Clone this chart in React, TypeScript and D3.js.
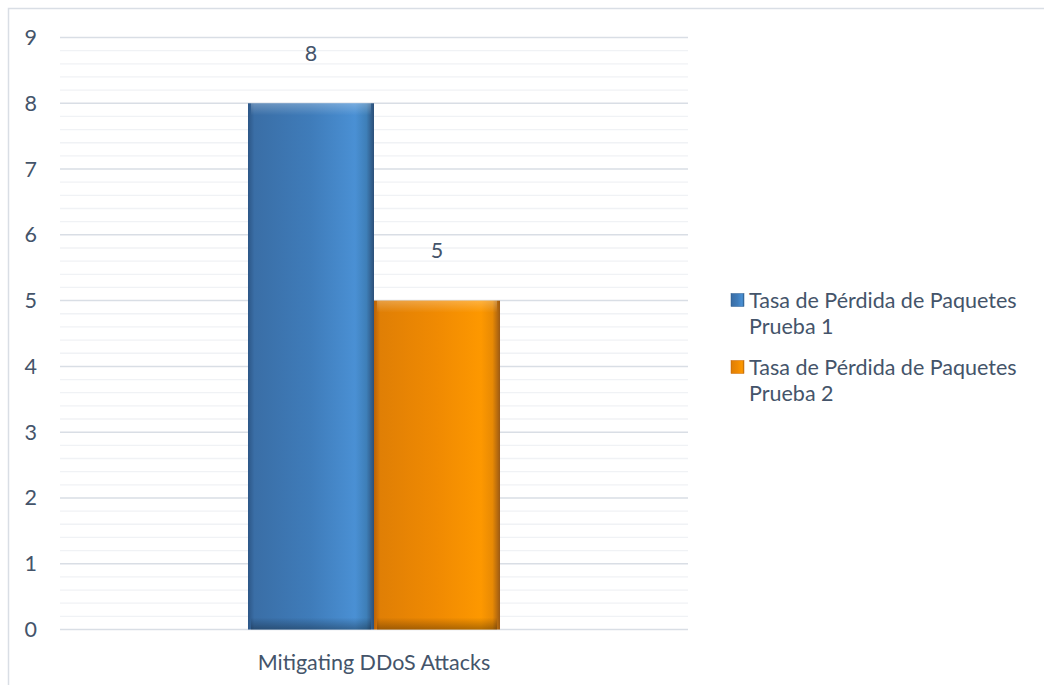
import React from "react";
import * as d3 from "d3";

const categories = ["Mitigating DDoS Attacks"];
const seriesNames = [
  ["Tasa de Pérdida de Paquetes", "Prueba 1"],
  ["Tasa de Pérdida de Paquetes", "Prueba 2"],
];
const seriesValues = [8, 5];
const yTicks = [0, 1, 2, 3, 4, 5, 6, 7, 8, 9];

const W = 1044;
const H = 685;
const FONT = "Lato, 'Noto Sans', sans-serif";
const TEXT = "#44546a";
const FS = 21.5;

export default function App() {
  const plotL = 60, plotR = 688, plotT = 37.5, plotB = 629.5;
  const y = d3.scaleLinear().domain([0, 9]).range([plotB, plotT]);
  const x0 = d3.scaleBand().domain(categories).range([plotL, plotR]).paddingInner(0).paddingOuter(0.746);
  const x1 = d3.scaleBand().domain(seriesValues.map((_, i) => String(i))).range([0, x0.bandwidth()]);
  const minorTicks = d3.range(0, 9.0001, 0.2).filter((v) => Math.abs(v - Math.round(v)) > 1e-6);
  const gradIds = ["gBlue", "gOrange"];
  const legendSw = ["#2f5f92", "#c96a0a"];

  return (
    <svg width={W} height={H} style={{ position: "absolute", left: 0, top: 0, background: "#fff" }}>
      <defs>
        <linearGradient id="gBlue" x1="0" x2="1" y1="0" y2="0">
          <stop offset="0" stopColor="#2c5686" />
          <stop offset="0.05" stopColor="#3a6ea6" />
          <stop offset="0.5" stopColor="#3f7cba" />
          <stop offset="0.85" stopColor="#4a90d4" />
          <stop offset="0.94" stopColor="#3e7fb8" />
          <stop offset="1" stopColor="#2c4f78" />
        </linearGradient>
        <linearGradient id="gOrange" x1="0" x2="1" y1="0" y2="0">
          <stop offset="0" stopColor="#b8620a" />
          <stop offset="0.05" stopColor="#e07f05" />
          <stop offset="0.5" stopColor="#f08a02" />
          <stop offset="0.85" stopColor="#fd9800" />
          <stop offset="0.94" stopColor="#e88a04" />
          <stop offset="1" stopColor="#9c5a14" />
        </linearGradient>
        <linearGradient id="gTop" x1="0" x2="0" y1="0" y2="1">
          <stop offset="0" stopColor="#fff" stopOpacity="0.25" />
          <stop offset="1" stopColor="#fff" stopOpacity="0" />
        </linearGradient>
        <linearGradient id="gBot" x1="0" x2="0" y1="0" y2="1">
          <stop offset="0" stopColor="#000" stopOpacity="0" />
          <stop offset="1" stopColor="#000" stopOpacity="0.3" />
        </linearGradient>
      </defs>
      <path d={`M${W},8.5 H8.5 V${H}`} fill="none" stroke="#d9dee5" strokeWidth={1.5} />
      {minorTicks.map((v) => (
        <line key={"m" + v} x1={plotL} x2={plotR} y1={y(v)} y2={y(v)} stroke="#f0f2f5" strokeWidth={1.3} />
      ))}
      {yTicks.map((v) => (
        <line key={"g" + v} x1={plotL} x2={plotR} y1={y(v)} y2={y(v)} stroke="#d9dee5" strokeWidth={1.5} />
      ))}
      {yTicks.map((v) => (
        <text key={"t" + v} x={37} y={y(v)} dy="0.35em" textAnchor="end" fontFamily={FONT} fontSize={FS} fill={TEXT}>
          {v}
        </text>
      ))}
      {categories.map((c) => (
        <g key={c}>
          {seriesValues.map((val, i) => {
            const bx = (x0(c) as number) + (x1(String(i)) as number);
            const bw = x1.bandwidth();
            const by = y(val);
            const bh = plotB - by;
            return (
              <g key={i}>
                <rect x={bx} y={by} width={bw} height={bh} fill={`url(#${gradIds[i]})`} />
                <rect x={bx + 3} y={by} width={bw - 6} height={12} fill="url(#gTop)" />
                <rect x={bx + 3} y={plotB - 12} width={bw - 6} height={12} fill="url(#gBot)" />
                <text x={bx + bw / 2} y={by - 50} dy="0.35em" textAnchor="middle" fontFamily={FONT} fontSize={FS} fill={TEXT}>
                  {val}
                </text>
              </g>
            );
          })}
          <text x={(x0(c) as number) + x0.bandwidth() / 2} y={662} dy="0.35em" textAnchor="middle" fontFamily={FONT} fontSize={FS} fill={TEXT}>
            {c}
          </text>
        </g>
      ))}
      {seriesNames.map((lines, i) => {
        const ly = 300 + i * 67;
        return (
          <g key={i}>
            <rect x={731} y={ly - 6.5} width={13} height={13} fill={`url(#${gradIds[i]})`} stroke={legendSw[i]} strokeWidth={0.5} />
            {lines.map((t, j) => (
              <text key={j} x={749} y={ly + j * 26.5} dy="0.35em" fontFamily={FONT} fontSize={FS} fill={TEXT}>
                {t}
              </text>
            ))}
          </g>
        );
      })}
    </svg>
  );
}
